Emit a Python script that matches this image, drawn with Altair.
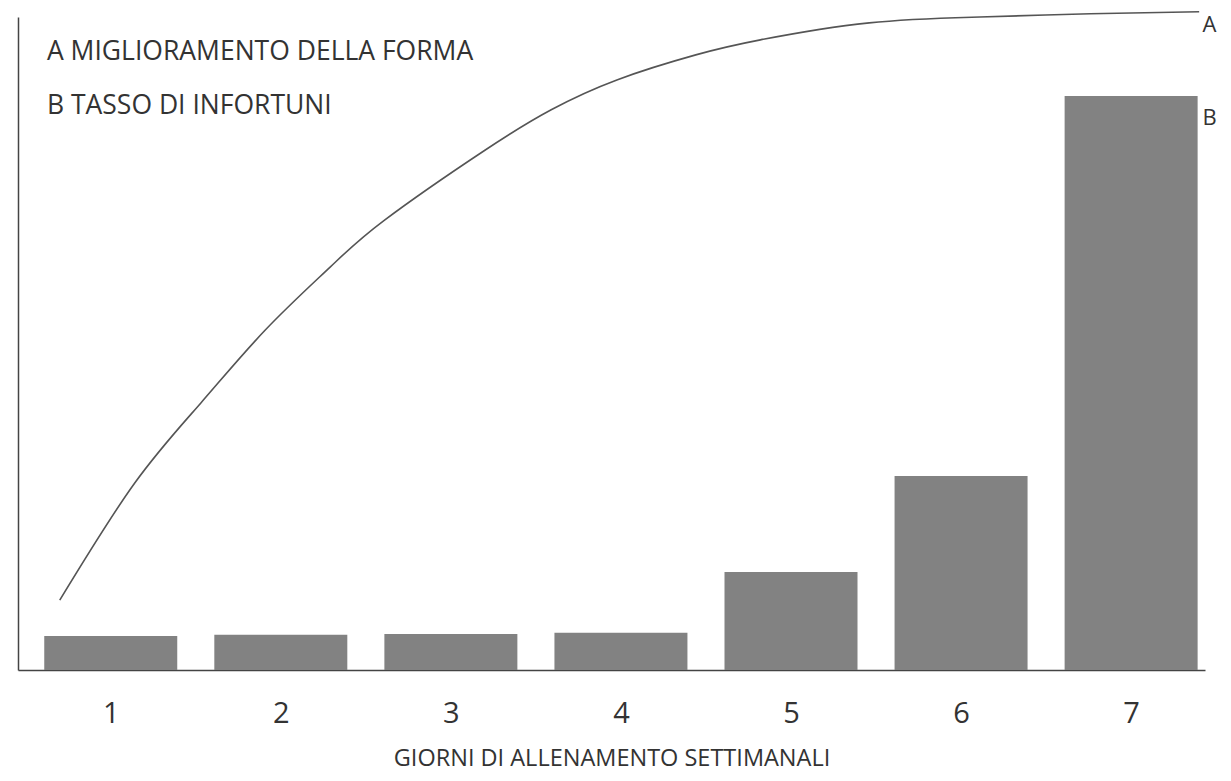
import altair as alt
import pandas as pd

# Bars: B - tasso di infortuni
giorni = [1, 2, 3, 4, 5, 6, 7]
infortuni = [5.2, 5.4, 5.5, 5.7, 15.0, 29.7, 87.9]

# Curve: A - miglioramento della forma
curva_x = [0.70, 1.14, 1.53, 1.91, 2.29, 2.61, 3.20, 3.59, 3.98, 4.44, 4.82, 5.46, 6.11, 6.76, 7.40]
curva_y = [10.7, 28.6, 40.9, 52.1, 61.7, 68.9, 79.6, 85.8, 90.4, 94.2, 96.5, 99.1, 100.0, 100.5, 100.8]

legenda = ["A MIGLIORAMENTO DELLA FORMA", "B TASSO DI INFORTUNI"]
legenda_y = [94.6, 86.4]
etichette = ["A", "B"]
etichette_y = [98.8, 84.6]

FONT = "Open Sans"
TXT = "#333333"

bars_df = pd.DataFrame({"giorni": giorni, "infortuni": infortuni})
curve_df = pd.DataFrame({"x": curva_x, "y": curva_y})
leg_df = pd.DataFrame({"t": legenda, "x": [0.625] * 2, "y": legenda_y})
lab_df = pd.DataFrame({"t": etichette, "x": [7.42] * 2, "y": etichette_y})

xscale = alt.Scale(domain=[0.484, 7.405], nice=False, zero=False)
yscale = alt.Scale(domain=[0, 100], nice=False)

bars = alt.Chart(bars_df).mark_bar(size=133, color="#828282").encode(
    x=alt.X("giorni:Q", scale=xscale,
            axis=alt.Axis(values=giorni, format="d", title="GIORNI DI ALLENAMENTO SETTIMANALI",
                          ticks=False, grid=False, domainColor="#444444", domainWidth=1.5,
                          labelFont=FONT, labelFontSize=29, labelColor=TXT, labelPadding=29,
                          titleFont=FONT, titleFontSize=23.5, titleFontWeight="normal",
                          titleColor=TXT, titlePadding=18)),
    y=alt.Y("infortuni:Q", scale=yscale,
            axis=alt.Axis(labels=False, ticks=False, grid=False, title=None,
                          domainColor="#444444", domainWidth=1.5)),
)

line = alt.Chart(curve_df).mark_line(color="#555555", strokeWidth=1.6, interpolate="natural").encode(
    x=alt.X("x:Q", scale=xscale), y=alt.Y("y:Q", scale=yscale)
)

leg = alt.Chart(leg_df).mark_text(align="left", baseline="middle", font=FONT, fontSize=26.5, color=TXT).encode(
    x=alt.X("x:Q", scale=xscale), y=alt.Y("y:Q", scale=yscale), text="t:N"
)

lab = alt.Chart(lab_df).mark_text(align="left", baseline="middle", font=FONT, fontSize=22, color=TXT).encode(
    x=alt.X("x:Q", scale=xscale), y=alt.Y("y:Q", scale=yscale), text="t:N"
)

chart = alt.layer(bars, line, leg, lab).properties(
    width=1187, height=653,
    autosize=alt.AutoSizeParams(type="none"),
    padding={"left": 10, "top": 9, "right": 18, "bottom": 102},
    background="white",
).configure_view(stroke=None)

chart.save("out.html", embed_options={"renderer": "svg", "actions": False})
